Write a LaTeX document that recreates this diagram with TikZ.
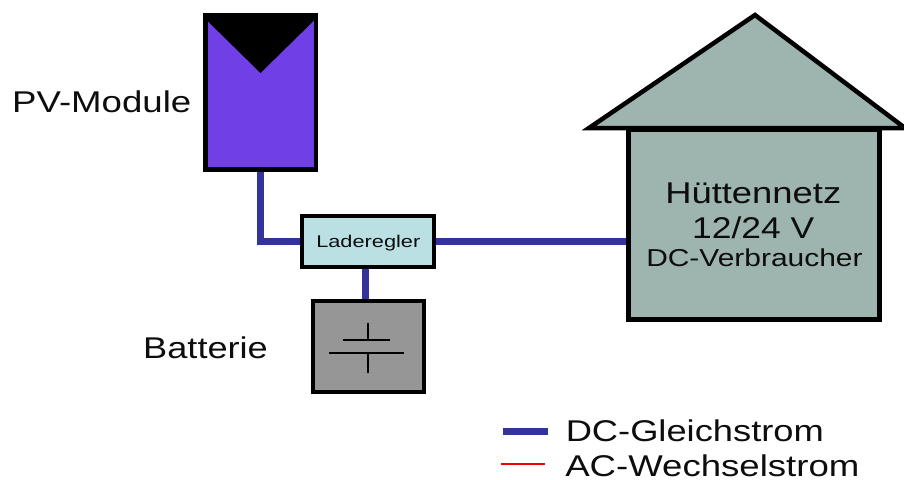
\documentclass[tikz,border=0pt]{standalone}
\usepackage{fontspec}
\setmainfont{Liberation Sans}
\definecolor{wire}{HTML}{333399}
\definecolor{pvfill}{HTML}{7040E6}
\definecolor{regfill}{HTML}{BBE0E3}
\definecolor{batfill}{HTML}{969696}
\definecolor{housefill}{HTML}{9DB5AE}
\definecolor{acred}{HTML}{F00000}
\tikzset{
  wireline/.style={draw=wire,line width=7pt},
  boxshape/.style={draw=black,line width=4.5pt,rectangle,inner sep=0pt,outer sep=0pt,anchor=north west},
  lab/.style={inner sep=0pt,anchor=base west,transform shape,text=black!95},
  batline/.style={draw=black,line width=2pt},
}
\newcommand{\fs}[1]{\fontsize{#1pt}{#1pt}\selectfont}
\begin{document}
\begin{tikzpicture}[x=1pt,y=-1pt]
\useasboundingbox (0,0) rectangle (904,479);
% shapes
\node[boxshape,fill=pvfill,minimum width=110.5pt,minimum height=154pt] (pv) at (205.3,15.5) {};
\node[boxshape,fill=regfill,line width=4pt,minimum width=132pt,minimum height=50.5pt] (reg) at (302,216.2) {};
\node[boxshape,fill=batfill,line width=4pt,minimum width=110.5pt,minimum height=91pt] (bat) at (313,301) {};
\node[boxshape,fill=housefill,line width=5pt,minimum width=251pt,minimum height=190pt] (house) at (628.3,129.8) {};
% module notch
\coordinate (notch) at (260.5,73);
\fill[black] (pv.north west) -- (pv.north east) -- (315.5,19) -- (notch) -- (205.5,19) -- cycle;
% roof
\coordinate (apex) at (755,15);
\coordinate (roofl) at (589,128);
\coordinate (roofr) at (905,128);
\filldraw[fill=housefill,draw=black,line width=4.5pt,line join=miter] (apex) -- (roofr) -- (roofl) -- cycle;
% wires
\coordinate (tap) at (365,284);
\draw[wireline,shorten >=2pt] (pv.south) ++(0,2) coordinate (pvs) -- (pvs |- reg.west) -- (reg.west);
\draw[wireline,shorten >=2.5pt] (reg.east) ++(2,0) coordinate (rege) -- (rege -| house.west);
\draw[wireline,shorten >=2pt] (tap |- reg.south) ++(0,2) coordinate (regs) -- (regs |- bat.north);
% battery symbol
\coordinate (b1l) at (343,340); \coordinate (b1r) at (390,340);
\coordinate (b2l) at (329,353); \coordinate (b2r) at (404,353);
\coordinate (bt) at (368,323); \coordinate (bb) at (368,373);
\draw[batline] (b1l) -- (b1r);
\draw[batline] (b2l) -- (b2r);
\draw[batline] (bt) -- (bt |- b1l);
\draw[batline] (bb) -- (bb |- b2l);
% labels
\node[lab,xscale=1.22] (lpv) at (12,112) {\fs{30}PV-Module};
\node[lab,xscale=1.28] (lreg) at (316,247) {\fs{17}Laderegler};
\node[lab,xscale=1.213] (lhut) at (665,203) {\fs{30}Hüttennetz};
\node[lab,xscale=1.18] (lv) at (692,238) {\fs{30}12/24 V};
\node[lab,xscale=1.222] (ldc) at (646,266) {\fs{24.5}DC-Verbraucher};
\node[lab,xscale=1.205] (lbat) at (143,358) {\fs{30}Batterie};
\node[lab,xscale=1.21] (lg) at (565.5,441) {\fs{30}DC-Gleichstrom};
\node[lab,xscale=1.22] (lw) at (565,476) {\fs{30}AC-Wechselstrom};
% legend
\coordinate (k1a) at (503,431.7); \coordinate (k1b) at (548,431.7);
\coordinate (k2a) at (501,464); \coordinate (k2b) at (545,464);
\draw[wireline] (k1a) -- (k1b);
\draw[draw=acred,line width=2.5pt] (k2a) -- (k2b);
\end{tikzpicture}
\end{document}
